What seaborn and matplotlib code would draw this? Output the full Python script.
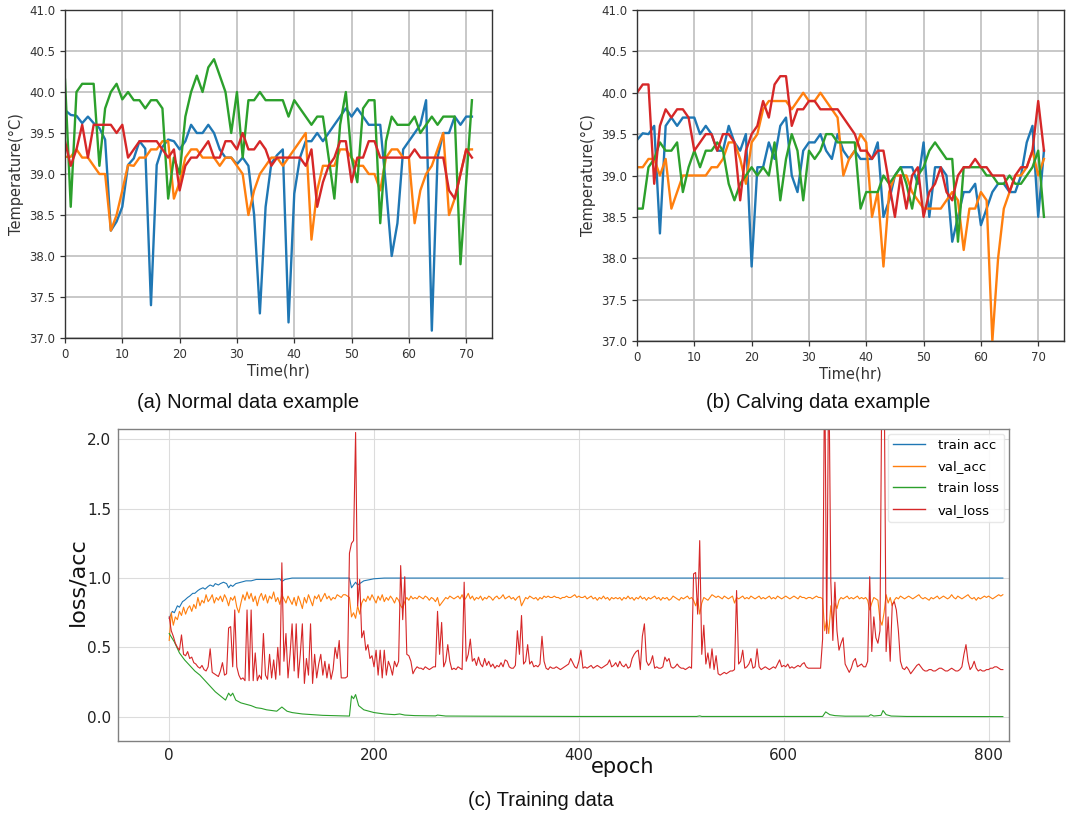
import numpy as np
import pandas as pd
import matplotlib
matplotlib.use("Agg")
import matplotlib.pyplot as plt
from matplotlib.lines import Line2D
import seaborn as sns

# ---------------- hourly temperature records (72 h) ----------------
hours = list(range(72))

normal_blue = [39.78, 39.72, 39.71, 39.62, 39.70, 39.62, 39.56, 39.42, 38.31, 38.42,
               38.60, 39.11, 39.19, 39.40, 39.31, 37.40, 39.11, 39.33, 39.42, 39.40,
               39.30, 39.40, 39.60, 39.50, 39.50, 39.60, 39.50, 39.30, 39.20, 39.20,
               39.12, 39.20, 39.10, 38.50, 37.30, 38.60, 39.13, 39.23, 39.30, 37.19,
               38.76, 39.20, 39.40, 39.40, 39.50, 39.40, 39.50, 39.60, 39.70, 39.80,
               39.70, 39.80, 39.70, 39.60, 39.60, 39.60, 38.85, 38.00, 38.40, 39.30,
               39.40, 39.50, 39.60, 39.90, 37.09, 39.20, 39.50, 39.50, 39.70, 39.60,
               39.70, 39.70]
normal_orange = [39.21, 39.21, 39.30, 39.20, 39.20, 39.10, 39.00, 39.00, 38.31, 38.50,
                 38.80, 39.11, 39.10, 39.20, 39.20, 39.30, 39.30, 39.40, 39.40, 38.70,
                 38.90, 39.20, 39.30, 39.30, 39.20, 39.20, 39.20, 39.10, 39.20, 39.20,
                 39.10, 39.00, 38.50, 38.80, 39.00, 39.10, 39.20, 39.20, 39.10, 39.20,
                 39.30, 39.40, 39.50, 38.20, 38.80, 39.10, 39.10, 39.10, 39.30, 39.30,
                 39.20, 39.10, 39.10, 39.00, 39.00, 38.80, 39.20, 39.30, 39.30, 39.20,
                 39.20, 38.40, 38.80, 39.00, 39.10, 39.30, 39.50, 38.50, 38.70, 39.00,
                 39.30, 39.30]
normal_green = [40.15, 38.60, 40.00, 40.10, 40.10, 40.10, 39.10, 39.80, 40.00, 40.10,
                39.91, 40.00, 39.90, 39.90, 39.80, 39.90, 39.90, 39.80, 38.70, 39.20,
                39.00, 39.70, 40.00, 40.20, 40.00, 40.30, 40.40, 40.20, 40.00, 39.50,
                40.00, 39.20, 39.90, 39.90, 40.00, 39.90, 39.90, 39.90, 39.90, 39.70,
                39.90, 39.80, 39.70, 39.60, 39.70, 39.70, 39.20, 38.70, 39.60, 40.00,
                39.20, 38.90, 39.80, 39.90, 39.90, 38.40, 39.40, 39.70, 39.60, 39.60,
                39.60, 39.70, 39.50, 39.60, 39.70, 39.60, 39.70, 39.70, 39.70, 37.90,
                38.90, 39.90]
normal_red = [39.40, 39.10, 39.30, 39.60, 39.20, 39.60, 39.60, 39.60, 39.60, 39.50,
              39.60, 39.20, 39.30, 39.40, 39.40, 39.40, 39.40, 39.30, 39.20, 39.30,
              38.80, 39.10, 39.20, 39.20, 39.30, 39.40, 39.20, 39.20, 39.40, 39.40,
              39.30, 39.50, 39.30, 39.30, 39.40, 39.30, 39.10, 39.20, 39.20, 39.20,
              39.20, 39.20, 39.10, 39.30, 38.60, 38.90, 39.10, 39.20, 39.40, 39.40,
              38.90, 39.20, 39.20, 39.40, 39.40, 39.20, 39.20, 39.20, 39.20, 39.20,
              39.20, 39.30, 39.20, 39.20, 39.20, 39.20, 39.20, 38.80, 38.70, 39.00,
              39.30, 39.20]

calving_blue = [39.43, 39.51, 39.50, 39.60, 38.30, 39.60, 39.70, 39.60, 39.70, 39.70,
                39.70, 39.50, 39.60, 39.50, 39.30, 39.30, 39.60, 39.40, 39.30, 39.50,
                37.90, 39.10, 39.10, 39.40, 39.20, 39.60, 39.70, 39.00, 38.80, 39.30,
                39.40, 39.40, 39.50, 39.30, 39.20, 39.50, 39.30, 39.20, 39.30, 39.20,
                39.20, 39.20, 39.40, 38.50, 38.70, 39.00, 39.10, 39.10, 39.10, 38.90,
                39.40, 38.50, 39.10, 39.10, 39.00, 38.20, 38.50, 38.80, 38.80, 38.90,
                38.40, 38.60, 38.80, 38.90, 38.90, 38.80, 38.80, 39.00, 39.40, 39.60,
                38.50, 39.30]
calving_orange = [39.10, 39.10, 39.20, 39.20, 39.00, 39.20, 38.60, 38.80, 39.00, 39.00,
                  39.00, 39.00, 39.00, 39.10, 39.10, 39.20, 39.40, 39.40, 39.20, 38.90,
                  39.40, 39.50, 39.80, 39.90, 39.90, 39.90, 39.90, 39.80, 39.90, 40.00,
                  39.90, 39.90, 40.00, 39.90, 39.80, 39.70, 39.00, 39.20, 39.30, 39.50,
                  39.40, 38.50, 38.80, 37.90, 38.80, 39.00, 39.00, 39.00, 38.80, 38.70,
                  38.60, 38.60, 38.60, 38.60, 38.70, 38.80, 38.70, 38.10, 38.60, 38.60,
                  38.80, 38.70, 37.00, 38.00, 38.60, 38.80, 39.00, 39.00, 39.10, 39.30,
                  39.00, 39.20]
calving_green = [38.60, 38.60, 39.10, 39.20, 39.40, 39.30, 39.30, 39.40, 38.80, 39.10,
                 39.30, 39.10, 39.30, 39.30, 39.40, 39.30, 38.90, 38.70, 38.90, 39.00,
                 39.10, 39.00, 39.10, 39.00, 39.40, 38.70, 39.20, 39.50, 39.30, 38.70,
                 39.30, 39.20, 39.30, 39.50, 39.50, 39.40, 39.40, 39.40, 39.40, 38.60,
                 38.80, 38.80, 38.80, 39.00, 38.90, 39.00, 39.10, 38.90, 38.60, 39.00,
                 39.10, 39.30, 39.40, 39.30, 39.20, 39.20, 38.20, 39.10, 39.10, 39.10,
                 39.10, 39.00, 39.00, 38.90, 38.90, 39.00, 38.90, 38.90, 39.00, 39.10,
                 39.30, 38.50]
calving_red = [40.00, 40.10, 40.10, 38.90, 39.60, 39.80, 39.70, 39.80, 39.80, 39.70,
               39.30, 39.40, 39.50, 39.50, 39.30, 39.50, 39.50, 39.40, 38.70, 39.30,
               39.50, 39.60, 39.90, 39.70, 40.10, 40.20, 40.20, 39.60, 39.80, 39.80,
               39.90, 39.90, 39.80, 39.80, 39.80, 39.80, 39.70, 39.60, 39.50, 39.30,
               39.30, 39.20, 39.30, 39.30, 38.90, 38.50, 39.00, 38.60, 39.00, 39.10,
               38.50, 38.80, 38.90, 39.10, 38.80, 38.70, 39.00, 39.10, 39.10, 39.20,
               39.10, 39.10, 39.00, 39.00, 39.00, 38.80, 39.00, 39.10, 39.10, 39.30,
               39.90, 39.30]

# ---------------- training history ----------------
train_acc_epoch = [0, 3, 5, 8, 10, 13, 15, 18, 20, 23, 25, 28, 30, 33, 35, 38, 40, 43, 45, 48,
                   50, 53, 56, 58, 60, 62, 65, 70, 75, 80, 85, 90, 100, 108, 110, 113, 120,
                   176, 178, 182, 184, 190, 200, 210, 814]
train_acc = [0.71, 0.76, 0.75, 0.80, 0.79, 0.83, 0.84, 0.86, 0.87, 0.89, 0.89, 0.91, 0.92,
             0.93, 0.92, 0.94, 0.95, 0.94, 0.96, 0.95, 0.96, 0.97, 0.96, 0.93, 0.95, 0.94,
             0.96, 0.97, 0.98, 0.98, 0.99, 0.99, 0.99, 0.995, 0.975, 0.99, 1.0,
             1.0, 0.93, 0.97, 0.95, 0.98, 0.995, 1.0, 1.0]

train_loss_epoch = [0, 5, 10, 15, 20, 25, 30, 35, 40, 45, 50, 55, 58, 60, 62, 65, 70, 75, 80,
                    85, 90, 95, 100, 105, 110, 115, 120, 125, 130, 140, 150, 160, 170, 176,
                    178, 180, 182, 185, 190, 195, 200, 210, 220, 225, 230, 240, 260, 262,
                    270, 300, 350, 400, 515, 518, 520, 600, 638, 641, 645, 650, 660, 683,
                    685, 688, 695, 697, 700, 705, 720, 814]
train_loss = [0.60, 0.54, 0.46, 0.41, 0.37, 0.33, 0.30, 0.26, 0.22, 0.18, 0.15, 0.12, 0.17,
              0.15, 0.17, 0.12, 0.10, 0.09, 0.08, 0.065, 0.06, 0.05, 0.045, 0.04, 0.07, 0.04,
              0.03, 0.025, 0.02, 0.015, 0.01, 0.008, 0.006, 0.005, 0.15, 0.13, 0.16, 0.08,
              0.05, 0.04, 0.03, 0.02, 0.015, 0.02, 0.012, 0.008, 0.006, 0.012, 0.005, 0.004,
              0.003, 0.002, 0.002, 0.006, 0.002, 0.002, 0.002, 0.035, 0.015, 0.008, 0.004,
              0.004, 0.015, 0.005, 0.01, 0.045, 0.015, 0.005, 0.002, 0.001]

# validation metrics logged every second epoch (0, 2, ..., 814)
val_epoch = np.arange(0, 815, 2)
val_acc = [
    0.55, 0.75, 0.66, 0.72, 0.70, 0.76, 0.73, 0.79, 0.74, 0.78, 0.80, 0.76, 0.81, 0.78, 0.86, 0.80, 0.84, 0.82, 0.88, 0.83,
    0.85, 0.88, 0.82, 0.86, 0.84, 0.87, 0.83, 0.88, 0.85, 0.80, 0.86, 0.84, 0.87, 0.79, 0.75, 0.82, 0.88, 0.84, 0.90, 0.85,
    0.89, 0.83, 0.87, 0.80, 0.86, 0.89, 0.84, 0.88, 0.82, 0.87, 0.85, 0.90, 0.83, 0.86, 0.81, 0.88, 0.85, 0.82, 0.87, 0.84,
    0.81, 0.86, 0.80, 0.87, 0.83, 0.78, 0.86, 0.82, 0.88, 0.84, 0.80, 0.87, 0.85, 0.88, 0.83, 0.86, 0.89, 0.85, 0.87, 0.84,
    0.86, 0.85, 0.88, 0.87, 0.86, 0.88, 0.88, 0.87, 0.86, 0.72, 0.75, 0.71, 0.80, 0.74, 0.82, 0.85, 0.83, 0.87, 0.84, 0.88,
    0.85, 0.82, 0.87, 0.84, 0.88, 0.83, 0.86, 0.84, 0.87, 0.85, 0.82, 0.86, 0.84, 0.80, 0.78, 0.83, 0.86, 0.84, 0.87, 0.85,
    0.86, 0.85, 0.87, 0.86, 0.85, 0.87, 0.86, 0.84, 0.86, 0.85, 0.83, 0.86, 0.80, 0.82, 0.84, 0.86, 0.85, 0.87, 0.86, 0.85,
    0.86, 0.87, 0.85, 0.88, 0.84, 0.86, 0.89, 0.85, 0.87, 0.84, 0.86, 0.85, 0.87, 0.84, 0.86, 0.85, 0.87, 0.86, 0.84, 0.86,
    0.87, 0.85, 0.86, 0.88, 0.85, 0.86, 0.87, 0.85, 0.86, 0.84, 0.86, 0.87, 0.80, 0.83, 0.86, 0.85, 0.87, 0.86, 0.85, 0.86,
    0.84, 0.86, 0.85, 0.87, 0.86, 0.87, 0.86, 0.86, 0.87, 0.86, 0.86, 0.85, 0.86, 0.86, 0.87, 0.86, 0.86, 0.87, 0.88, 0.86,
    0.87, 0.86, 0.86, 0.87, 0.85, 0.86, 0.87, 0.85, 0.86, 0.84, 0.86, 0.85, 0.87, 0.85, 0.86, 0.84, 0.86, 0.85, 0.86, 0.85,
    0.86, 0.84, 0.86, 0.85, 0.87, 0.85, 0.86, 0.84, 0.86, 0.85, 0.87, 0.85, 0.86, 0.84, 0.86, 0.85, 0.86, 0.87, 0.85, 0.86,
    0.84, 0.86, 0.85, 0.86, 0.84, 0.85, 0.87, 0.86, 0.85, 0.84, 0.86, 0.85, 0.86, 0.87, 0.85, 0.86, 0.84, 0.80, 0.85, 0.74,
    0.82, 0.86, 0.85, 0.84, 0.86, 0.88, 0.87, 0.86, 0.87, 0.86, 0.85, 0.87, 0.86, 0.85, 0.86, 0.87, 0.82, 0.86, 0.85, 0.86,
    0.87, 0.85, 0.86, 0.85, 0.87, 0.86, 0.85, 0.86, 0.87, 0.85, 0.86, 0.85, 0.86, 0.87, 0.85, 0.86, 0.85, 0.87, 0.86, 0.85,
    0.86, 0.87, 0.86, 0.85, 0.86, 0.87, 0.86, 0.85, 0.87, 0.86, 0.86, 0.85, 0.86, 0.86, 0.85, 0.86, 0.87, 0.86, 0.86, 0.85,
    0.62, 0.70, 0.60, 0.80, 0.68, 0.82, 0.78, 0.84, 0.86, 0.85, 0.86, 0.87, 0.85, 0.86, 0.85, 0.86, 0.87, 0.85, 0.86, 0.85,
    0.86, 0.84, 0.77, 0.82, 0.86, 0.85, 0.84, 0.70, 0.66, 0.75, 0.88, 0.82, 0.86, 0.80, 0.84, 0.86, 0.85, 0.87, 0.86, 0.85,
    0.86, 0.87, 0.86, 0.85, 0.86, 0.87, 0.88, 0.86, 0.85, 0.86, 0.85, 0.84, 0.86, 0.85, 0.86, 0.87, 0.85, 0.86, 0.87, 0.86,
    0.85, 0.86, 0.88, 0.86, 0.85, 0.87, 0.86, 0.85, 0.86, 0.87, 0.88, 0.86, 0.85, 0.86, 0.84, 0.86, 0.85, 0.86, 0.87, 0.86,
    0.87, 0.86, 0.85, 0.86, 0.87, 0.88, 0.87, 0.88]
val_loss = [
    0.72, 0.62, 0.58, 0.53, 0.50, 0.48, 0.59, 0.45, 0.44, 0.47, 0.42, 0.43, 0.39, 0.38, 0.36, 0.35, 0.37, 0.34, 0.33, 0.36,
    0.49, 0.32, 0.31, 0.30, 0.29, 0.33, 0.39, 0.30, 0.31, 0.64, 0.65, 0.36, 0.77, 0.36, 0.30, 0.27, 0.28, 0.26, 0.77, 0.26,
    0.77, 0.26, 0.46, 0.26, 0.30, 0.27, 0.60, 0.30, 0.27, 0.45, 0.28, 0.41, 0.27, 0.50, 0.30, 1.11, 0.40, 0.60, 0.28, 0.45,
    0.67, 0.33, 0.67, 0.28, 0.45, 0.67, 0.24, 0.42, 0.30, 0.67, 0.24, 0.45, 0.28, 0.38, 0.45, 0.30, 0.40, 0.28, 0.38, 0.27,
    0.34, 0.50, 0.42, 0.55, 0.28, 0.28, 0.28, 0.29, 1.18, 1.25, 1.27, 2.05, 0.80, 0.99, 0.57, 0.62, 0.48, 0.52, 0.42, 0.44,
    0.36, 0.48, 0.30, 0.48, 0.28, 0.48, 0.30, 0.40, 0.36, 0.30, 0.40, 0.36, 0.40, 1.09, 0.70, 1.01, 0.45, 0.44, 0.40, 0.31,
    0.34, 0.36, 0.35, 0.35, 0.34, 0.36, 0.35, 0.34, 0.35, 0.36, 0.36, 0.76, 0.45, 0.68, 0.36, 0.40, 0.52, 0.40, 0.34, 0.35,
    0.34, 0.36, 0.35, 0.34, 0.97, 0.40, 0.45, 0.56, 0.40, 0.42, 0.37, 0.43, 0.38, 0.36, 0.42, 0.37, 0.40, 0.36, 0.38, 0.35,
    0.37, 0.36, 0.39, 0.36, 0.41, 0.40, 0.36, 0.35, 0.35, 0.37, 0.62, 0.45, 0.73, 0.38, 0.40, 0.52, 0.38, 0.40, 0.36, 0.37,
    0.36, 0.38, 0.58, 0.40, 0.35, 0.34, 0.36, 0.35, 0.35, 0.36, 0.35, 0.34, 0.35, 0.36, 0.37, 0.38, 0.42, 0.39, 0.36, 0.35,
    0.40, 0.48, 0.35, 0.36, 0.35, 0.36, 0.37, 0.35, 0.36, 0.37, 0.36, 0.35, 0.36, 0.37, 0.38, 0.41, 0.36, 0.37, 0.39, 0.36,
    0.40, 0.37, 0.36, 0.38, 0.35, 0.36, 0.42, 0.45, 0.47, 0.48, 0.34, 0.58, 0.67, 0.40, 0.37, 0.39, 0.44, 0.35, 0.36, 0.35,
    0.35, 0.36, 0.43, 0.40, 0.42, 0.36, 0.35, 0.36, 0.38, 0.36, 0.35, 0.35, 0.34, 0.35, 0.36, 0.35, 1.03, 1.04, 0.74, 1.27,
    0.45, 0.66, 0.38, 0.46, 0.35, 0.49, 0.34, 0.44, 0.31, 0.30, 0.31, 0.32, 0.31, 0.32, 0.33, 0.33, 0.34, 0.91, 0.38, 0.40,
    0.48, 0.35, 0.36, 0.38, 0.42, 0.35, 0.36, 0.49, 0.36, 0.34, 0.35, 0.36, 0.35, 0.34, 0.35, 0.36, 0.35, 0.38, 0.41, 0.36,
    0.37, 0.36, 0.38, 0.35, 0.36, 0.35, 0.36, 0.37, 0.36, 0.38, 0.39, 0.36, 0.35, 0.35, 0.35, 0.35, 0.35, 0.35, 0.35, 0.56,
    2.60, 0.60, 2.60, 0.98, 0.55, 0.97, 0.62, 0.48, 0.53, 0.57, 0.38, 0.35, 0.32, 0.35, 0.40, 0.42, 0.36, 0.37, 0.38, 0.36,
    0.36, 0.40, 1.01, 0.47, 0.72, 0.57, 0.53, 0.62, 2.60, 2.60, 0.47, 0.72, 0.40, 0.81, 0.83, 0.77, 0.62, 0.40, 0.35, 0.34,
    0.36, 0.34, 0.31, 0.33, 0.35, 0.37, 0.38, 0.36, 0.34, 0.33, 0.33, 0.34, 0.34, 0.33, 0.33, 0.34, 0.35, 0.35, 0.34, 0.33,
    0.33, 0.34, 0.35, 0.34, 0.33, 0.33, 0.34, 0.36, 0.45, 0.52, 0.40, 0.34, 0.36, 0.40, 0.35, 0.33, 0.34, 0.33, 0.33, 0.34,
    0.34, 0.35, 0.35, 0.36, 0.36, 0.35, 0.34, 0.34]

series_names = ["train acc", "val_acc", "train loss", "val_loss"]
tab = ["#1f77b4", "#ff7f0e", "#2ca02c", "#d62728"]

# ---------------- figure ----------------
W, H = 1067, 821
fig = plt.figure(figsize=(W / 100, H / 100), dpi=100)
fig.patch.set_facecolor("white")


def box(left, top, right, bottom):
    return [left / W, 1 - bottom / H, (right - left) / W, (bottom - top) / H]


ax_a = fig.add_axes(box(65, 10, 492, 338))
ax_b = fig.add_axes(box(637, 10, 1064, 341))
ax_c = fig.add_axes(box(118, 429, 1009, 741))


def temperature_panel(ax, curves):
    frames = []
    for k, vals in enumerate(curves):
        frames.append(pd.DataFrame({"hour": hours, "temp": vals, "cow": k}))
    df = pd.concat(frames, ignore_index=True)
    sns.lineplot(data=df, x="hour", y="temp", hue="cow", palette=tab,
                 estimator=None, lw=1.7, legend=False, ax=ax)
    ax.set_xlim(0, 74.5)
    ax.set_ylim(37.0, 41.0)
    ax.set_xticks(range(0, 71, 10))
    ax.set_yticks(np.arange(37.0, 41.01, 0.5))
    ax.set_yticklabels([f"{v:.1f}" for v in np.arange(37.0, 41.01, 0.5)])
    ax.grid(True, color="#c4c4c4", lw=1.3)
    ax.set_axisbelow(True)
    for s in ax.spines.values():
        s.set_color("#333333")
        s.set_linewidth(1.0)
    ax.tick_params(axis="both", labelsize=8.5, colors="#333333", length=3.5, width=0.9)
    ax.set_xlabel("Time(hr)", fontsize=10.5, color="#333333", labelpad=2)
    ax.set_ylabel("Temperature(°C)", fontsize=10.5, color="#333333", labelpad=4)


temperature_panel(ax_a, [normal_blue, normal_orange, normal_green, normal_red])
temperature_panel(ax_b, [calving_blue, calving_orange, calving_green, calving_red])

# ---------------- training curves ----------------
hist = pd.concat([
    pd.DataFrame({"epoch": train_acc_epoch, "value": train_acc, "metric": "train acc"}),
    pd.DataFrame({"epoch": val_epoch, "value": val_acc, "metric": "val_acc"}),
    pd.DataFrame({"epoch": train_loss_epoch, "value": train_loss, "metric": "train loss"}),
    pd.DataFrame({"epoch": val_epoch, "value": val_loss, "metric": "val_loss"}),
], ignore_index=True)

sns.lineplot(data=hist, x="epoch", y="value", hue="metric", hue_order=series_names,
             palette=tab, estimator=None, lw=0.8, legend=False, ax=ax_c)
ax_c.set_xlim(-50, 820)
ax_c.set_ylim(-0.175, 2.075)
ax_c.set_xticks([0, 200, 400, 600, 800])
ax_c.set_yticks([0.0, 0.5, 1.0, 1.5, 2.0])
ax_c.set_yticklabels(["0.0", "0.5", "1.0", "1.5", "2.0"])
ax_c.grid(True, color="#dcdcdc", lw=0.8)
ax_c.set_axisbelow(True)
for name, s in ax_c.spines.items():
    s.set_color("#808080")
    s.set_linewidth(1.0)
ax_c.tick_params(axis="both", length=0, labelsize=11, colors="#222222", pad=5)
ax_c.set_xlabel("epoch", fontsize=15, color="#111111")
ax_c.set_ylabel("loss/acc", fontsize=16, color="#111111")
ax_c.xaxis.set_label_coords(0.566, -0.05)
ax_c.yaxis.set_label_coords(-0.034, 0.51)

handles = [Line2D([], [], color=c, lw=1.0) for c in tab]
leg = ax_c.legend(handles, series_names, loc="upper right", fontsize=9.5,
                  frameon=True, framealpha=0.85, edgecolor="#e4e4e4",
                  labelspacing=0.65, handlelength=2.4, handletextpad=1.0,
                  borderaxespad=0.35, fancybox=True)

# ---------------- captions ----------------
cap_font = dict(family=["Liberation Sans", "DejaVu Sans"], fontsize=14.5, color="#111111")
fig.text(248 / W, 1 - 402 / H, "(a) Normal data example", ha="center", va="center", **cap_font)
fig.text(818 / W, 1 - 402 / H, "(b) Calving data example", ha="center", va="center", **cap_font)
fig.text(541 / W, 1 - 800 / H, "(c) Training data", ha="center", va="center", **cap_font)

fig.savefig("out.png", dpi=100, facecolor="white")
